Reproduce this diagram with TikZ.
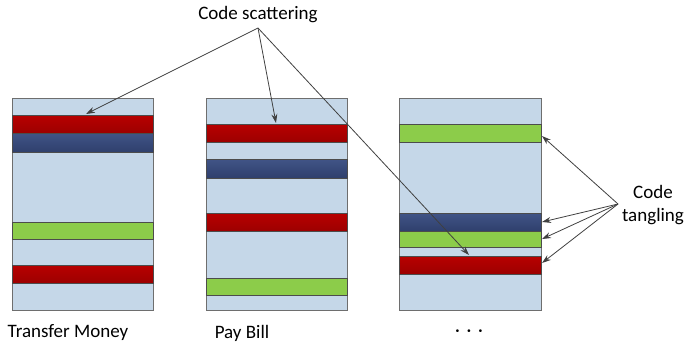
\documentclass[tikz,border=0pt]{standalone}
\usepackage{fontspec}
\setmainfont{Carlito}
\usetikzlibrary{arrows.meta}
\definecolor{bg}{HTML}{C5D7E8}
\definecolor{redb}{HTML}{B80000}
\definecolor{blueb}{HTML}{374B80}
\definecolor{greenb}{HTML}{8CCC4A}
\definecolor{edge}{HTML}{6E6E6E}
\definecolor{arr}{HTML}{404040}
\begin{document}
\begin{tikzpicture}[x=1pt,y=-1pt,
  module/.style={draw=edge,line width=1.2pt,fill=bg},
  band/.style={draw=black!70,line width=0.8pt},
  lbl/.style={font=\fontsize{19}{23}\selectfont,inner sep=0pt,align=center},
  conn/.style={draw=arr,line width=0.8pt,-{Stealth[length=9pt,width=6pt]}}]
\useasboundingbox (0,0) rectangle (688,348);
% modules
\node[module,minimum width=141pt,minimum height=212pt,inner sep=0pt,anchor=north west] (m1) at (12,98) {};
\node[module,minimum width=141pt,minimum height=212pt,inner sep=0pt,anchor=north west] (m2) at (206,98) {};
\node[module,minimum width=142pt,minimum height=212pt,inner sep=0pt,anchor=north west] (m3) at (399,98) {};
% bands module 1
\fill[top color=redb!100,bottom color=redb!85!black] (12,115) rectangle (153,133);
\draw[band] (12,115) rectangle (153,133);
\fill[top color=blueb!95!white,bottom color=blueb!85!black] (12,133) rectangle (153,152);
\draw[band] (12,133) rectangle (153,152);
\fill[greenb] (12,222) rectangle (153,239);
\draw[band] (12,222) rectangle (153,239);
\fill[top color=redb,bottom color=redb!85!black] (12,265) rectangle (153,283);
\draw[band] (12,265) rectangle (153,283);
% bands module 2
\fill[top color=redb,bottom color=redb!85!black] (206,124) rectangle (347,142);
\draw[band] (206,124) rectangle (347,142);
\fill[top color=blueb!95!white,bottom color=blueb!85!black] (206,159) rectangle (347,178);
\draw[band] (206,159) rectangle (347,178);
\fill[top color=redb,bottom color=redb!85!black] (206,213) rectangle (347,231);
\draw[band] (206,213) rectangle (347,231);
\fill[greenb] (206,278) rectangle (347,295);
\draw[band] (206,278) rectangle (347,295);
% bands module 3
\fill[greenb] (399,124) rectangle (541,142);
\draw[band] (399,124) rectangle (541,142);
\fill[top color=blueb!95!white,bottom color=blueb!85!black] (399,213) rectangle (541,231);
\draw[band] (399,213) rectangle (541,231);
\fill[greenb] (399,231) rectangle (541,247);
\draw[band] (399,231) rectangle (541,247);
\fill[top color=redb,bottom color=redb!85!black] (399,256) rectangle (541,274);
\draw[band] (399,256) rectangle (541,274);
% labels
\node[lbl] (scat) at (258,15) {Code scattering};
\node[lbl] (tang) at (653,205) {Code\\tangling};
\node[lbl] (l1) at (68,333) {Transfer Money};
\node[lbl] (l2) at (242,333) {Pay Bill};
\node[lbl] (l3) at (469,333) {·\hspace{0.35em}·\hspace{0.35em}·};
% arrow targets
\coordinate (sa) at (258,28);
\coordinate (ta) at (618,204);
\coordinate (s1) at (86,114);
\coordinate (s2) at (276,123);
\coordinate (s3) at (469,255);
\coordinate (t1) at (542,136);
\coordinate (t2) at (542,222);
\coordinate (t3) at (542,239);
\coordinate (t4) at (542,263);
\draw[conn] (sa) -- (s1);
\draw[conn] (sa) -- (s2);
\draw[conn] (sa) -- (s3);
\draw[conn] (ta) -- (t1);
\draw[conn] (ta) -- (t2);
\draw[conn] (ta) -- (t3);
\draw[conn] (ta) -- (t4);
\end{tikzpicture}
\end{document}
